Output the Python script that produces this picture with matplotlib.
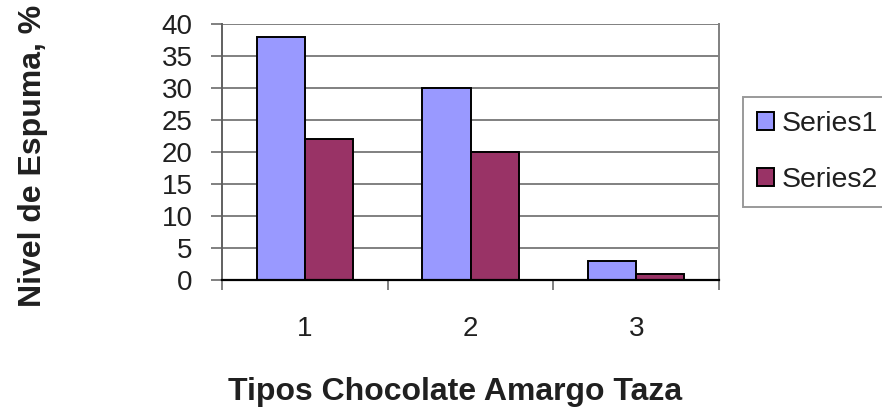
import matplotlib
matplotlib.use("Agg")
import matplotlib.pyplot as plt
from matplotlib.patches import Patch
import numpy as np

plt.rcParams['font.family'] = ['Liberation Sans', 'DejaVu Sans']

categories = ["1", "2", "3"]
series1 = [38, 30, 3]
series2 = [22, 20, 1]
series_names = ["Series1", "Series2"]
y_ticks = [0, 5, 10, 15, 20, 25, 30, 35, 40]

W, H = 882, 412
fig = plt.figure(figsize=(W / 100, H / 100), dpi=100)
ax = fig.add_axes([222 / W, 1 - 280 / H, (719 - 222) / W, (280 - 24) / H])

x = np.arange(len(categories))
bw = 0.29
c1, c2 = "#9999FF", "#993366"
ax.bar(x - bw / 2, series1, bw, color=c1, edgecolor="black", linewidth=1.4, zorder=3)
ax.bar(x + bw / 2, series2, bw, color=c2, edgecolor="black", linewidth=1.4, zorder=3)

ax.set_xlim(-0.5, len(categories) - 0.5)
ax.set_ylim(0, 40)
ax.set_yticks(y_ticks)
ax.set_yticklabels([str(v) for v in y_ticks], fontsize=20)
ax.yaxis.grid(True, color="#808080", linewidth=1.4, zorder=0)
ax.tick_params(axis="y", length=8, width=1.4, color="#808080", pad=13, colors="#202020")

# category boundaries carry the tick marks, centres carry the labels
ax.set_xticks(np.arange(len(categories) + 1) - 0.5)
ax.set_xticklabels([])
ax.tick_params(axis="x", which="major", length=7, width=1.4, color="#808080")
ax.set_xticks(x, minor=True)
ax.set_xticklabels(categories, minor=True, fontsize=20, color="#202020")
ax.tick_params(axis="x", which="minor", length=0, pad=26)

ax.spines["top"].set_visible(False)
ax.spines["right"].set_color("#808080")
ax.spines["right"].set_linewidth(1.4)
ax.spines["left"].set_color("#606060")
ax.spines["left"].set_linewidth(1.4)
ax.spines["bottom"].set_color("black")
ax.spines["bottom"].set_linewidth(1.6)
ax.spines["bottom"].set_zorder(4)

fig.text(455 / W, 1 - 392 / H, "Tipos Chocolate Amargo Taza", fontsize=23,
         fontweight="bold", ha="center", va="center", color="#202020")
fig.text(33 / W, 1 - 156 / H, "Nivel de Espuma, %", fontsize=23, fontweight="bold",
         rotation=90, ha="center", va="center", color="#202020")

handles = [Patch(facecolor=c1, edgecolor="black", linewidth=1.4),
           Patch(facecolor=c2, edgecolor="black", linewidth=1.4)]
leg = fig.legend(handles, series_names, loc="upper left",
                 bbox_to_anchor=(743 / W, 1 - 97 / H), borderaxespad=0,
                 fontsize=20.5, handlelength=0.6, handleheight=0.6,
                 handletextpad=0.25, labelspacing=1.05, borderpad=0.5,
                 frameon=True, fancybox=False)
leg.get_frame().set_edgecolor("#808080")
leg.get_frame().set_linewidth(1.4)
for t in leg.get_texts():
    t.set_color("#202020")

fig.savefig("out.png", dpi=100)
